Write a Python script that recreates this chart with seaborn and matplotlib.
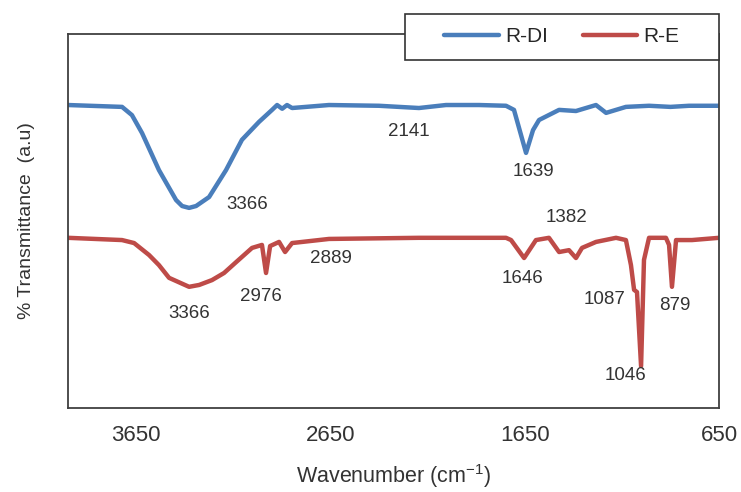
import numpy as np
import pandas as pd
import matplotlib.pyplot as plt
import seaborn as sns
from matplotlib.patches import Rectangle

# FTIR spectra (wavenumber in cm-1, transmittance a.u.)
wn_rdi = [4000, 3722, 3671, 3619, 3532, 3444, 3413, 3377, 3341, 3274, 3187, 3105,
          3017, 2950, 2924, 2898, 2873, 2847, 2657, 2400, 2194, 2055, 1885, 1746,
          1705, 1643, 1607, 1576, 1473, 1386, 1283, 1231, 1129, 1010, 900, 804, 650]
t_rdi = [81.0, 80.5, 78.3, 73.5, 63.6, 55.6, 54.0, 53.5, 54.0, 56.4, 63.6, 71.7,
         76.5, 79.7, 81.0, 80.0, 81.0, 80.2, 81.0, 80.8, 80.2, 81.0, 81.0, 80.8,
         79.7, 68.2, 74.3, 77.0, 79.7, 79.4, 81.0, 78.9, 80.5, 80.8, 80.5, 80.8, 80.8]

wn_re = [4000, 3722, 3660, 3583, 3532, 3480, 3377, 3325, 3259, 3197, 3135, 3053,
         3002, 2981, 2960, 2914, 2883, 2847, 2657, 2194, 1746, 1720, 1653, 1592,
         1525, 1473, 1422, 1386, 1355, 1283, 1180, 1129, 1103, 1087, 1072, 1051,
         1036, 1010, 923, 907, 892, 871, 789, 650]
t_re = [45.5, 44.9, 44.1, 40.9, 38.2, 34.8, 32.4, 32.9, 34.2, 36.1, 39.0, 42.8,
        43.6, 36.1, 43.3, 44.4, 41.7, 44.1, 45.2, 45.5, 45.5, 44.9, 40.1, 44.9,
        45.5, 41.7, 42.2, 40.1, 42.8, 44.4, 45.5, 44.9, 38.2, 31.6, 31.0, 11.2,
        39.6, 45.5, 45.5, 43.6, 32.4, 44.9, 44.9, 45.5]

# peak labels: text, x, y
peak_text = ["3366", "2141", "1639", "1382", "3366", "2976", "2889", "1646",
             "1087", "879", "1046"]
peak_x = [3079, 2245, 1607, 1437, 3377, 3007, 2647, 1659, 1237, 876, 1129]
peak_y = [54.3, 73.8, 63.1, 50.8, 25.4, 29.9, 40.1, 34.5, 28.9, 27.5, 8.8]

xticks = [3650, 2650, 1650, 650]

df = pd.concat([
    pd.DataFrame({"wn": wn_rdi, "T": t_rdi, "sample": "R-DI"}),
    pd.DataFrame({"wn": wn_re, "T": t_re, "sample": "R-E"}),
])

sns.set_style("white")
plt.rcParams["font.family"] = ["Liberation Sans", "DejaVu Sans"]

fig = plt.figure(figsize=(7.41, 4.92), dpi=100)
ax = fig.add_axes([0.0918, 0.1707, 0.8785, 0.7603])

palette = {"R-DI": "#4a7ebb", "R-E": "#be4b48"}
sns.lineplot(data=df, x="wn", y="T", hue="sample", palette=palette,
             linewidth=3.2, sort=False, estimator=None, ax=ax)

ax.set_xlim(4000, 650)
ax.set_ylim(0, 100)
ax.set_xticks(xticks)
ax.set_xticklabels([str(v) for v in xticks], fontsize=16, color="#333333")
ax.set_yticks([])
ax.tick_params(axis="x", length=0, pad=12)

for s in ax.spines.values():
    s.set_color("#404040")
    s.set_linewidth(1.3)

for txt, x, y in zip(peak_text, peak_x, peak_y):
    ax.text(x, y, txt, ha="center", va="center", fontsize=13.5, color="#333333")

ax.set_xlabel("Wavenumber (cm$^{\\mathregular{-1}}$)", fontsize=15.5,
              color="#333333", labelpad=12)
ax.set_ylabel("% Transmittance  (a.u)", fontsize=14, color="#333333", labelpad=24)

# legend box sitting over the top spine
box = Rectangle((0.5466, 0.878), 0.4238, 0.0935, transform=fig.transFigure,
                facecolor="white", edgecolor="#333333", linewidth=1.2,
                clip_on=False, zorder=4)
ax.add_patch(box)

handles, labels = ax.get_legend_handles_labels()
leg = ax.legend(handles, labels, loc="center", bbox_to_anchor=(0.7585, 0.9248),
                bbox_transform=fig.transFigure, ncol=2, frameon=False,
                fontsize=15, handlelength=2.6, handletextpad=0.3,
                columnspacing=1.7, borderpad=0)
leg.set_zorder(5)

fig.savefig("out.png", dpi=100)
